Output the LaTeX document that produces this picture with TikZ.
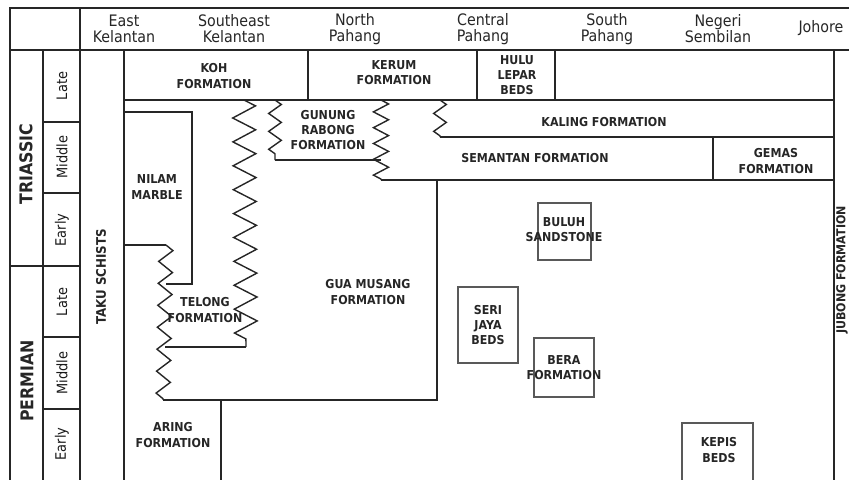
\documentclass[tikz,border=0pt]{standalone}
\usepackage{fontspec}
\setmainfont{DejaVu Sans}[FakeStretch=0.9]
\usetikzlibrary{decorations.pathmorphing}

\begin{document}
\begin{tikzpicture}[
      x=0.02cm, y=-0.02cm,
      rule/.style={line width=0.8pt, black!85},
      boxline/.style={line width=0.6pt, black!65},
      zz/.style 2 args={rule, decorate, decoration={zigzag, segment length=#1, amplitude=#2}},
      region/.style={font=\fontsize{9}{9.2}\selectfont, align=center, inner sep=0pt, text=black!85},
      fm/.style={font=\fontsize{7}{8.6}\selectfont\bfseries, align=center, inner sep=0pt, text=black!85},
      age/.style={font=\fontsize{8.2}{9}\selectfont, rotate=90, inner sep=0pt, text=black!90},
      period/.style={font=\fontsize{10}{11}\selectfont\bfseries, rotate=90, inner sep=0pt, text=black!85}
    ]
      \useasboundingbox (0,0) rectangle (849,480);

      % frame and columns
      \draw[rule] (10,480) -- (10,8) -- (849,8);
      \draw[rule] (10,50) -- (849,50);
      \draw[rule] (80,8) -- (80,480);
      \draw[rule] (43,50) -- (43,480);
      \draw[rule] (124,50) -- (124,480);
      \draw[rule] (834,50) -- (834,480);
      \draw[rule] (10,266) -- (80,266);
      \draw[rule] (43,122) -- (80,122);
      \draw[rule] (43,193) -- (80,193);
      \draw[rule] (43,337) -- (80,337);
      \draw[rule] (43,409) -- (80,409);

      % regions
      \node[region] (ekel) at (124,29) {East\\Kelantan};
      \node[region] (sekel) at (234,29) {Southeast\\Kelantan};
      \node[region] (npah) at (355,29) {North\\Pahang};
      \node[region] (cpah) at (483,29) {Central\\Pahang};
      \node[region] (spah) at (607,29) {South\\Pahang};
      \node[region] (nsem) at (718,29) {Negeri\\Sembilan};
      \node[region] (joh) at (821,28) {Johore};

      % periods and epochs
      \node[period] (trias) at (26,164) {TRIASSIC};
      \node[period] (perm) at (27,381) {PERMIAN};
      \node[age] (tlate) at (62,86) {Late};
      \node[age] (tmid) at (62,157) {Middle};
      \node[age] (tearly) at (62,230) {Early};
      \node[age] (plate) at (62,302) {Late};
      \node[age] (pmid) at (62,373) {Middle};
      \node[age] (pearly) at (62,444) {Early};

      % Upper Triassic row
      \draw[rule] (124,100) -- (834,100);
      \draw[rule] (308,50) -- (308,100);
      \draw[rule] (477,50) -- (477,100);
      \draw[rule] (555,50) -- (555,100);

      % Middle Triassic and below
      \draw[rule] (124,112) -- (192,112) -- (192,284) -- (166,284);
      \draw[rule] (124,245) -- (166,245);
      \draw[zz={12.5pt}{4pt}] (166,245) -- (163,400);
      \draw[zz={13.6pt}{6.5pt}] (244,100) -- (246,347);
      \draw[rule] (165,347) -- (246,347);
      \draw[zz={10.2pt}{3.6pt}] (275,100) -- (275,160);
      \draw[rule] (275,160) -- (381,160);
      \draw[zz={9pt}{4.3pt}] (381,100) -- (381,180);
      \draw[rule] (381,180) -- (834,180);
      \draw[zz={10.2pt}{3.6pt}] (440,100) -- (440,137);
      \draw[rule] (440,137) -- (834,137);
      \draw[rule] (713,137) -- (713,180);
      \draw[rule] (437,180) -- (437,400) -- (163,400);
      \draw[rule] (221,400) -- (221,480);

      % small units
      \draw[boxline] (538,203) rectangle (591,260);
      \draw[boxline] (458,287) rectangle (518,363);
      \draw[boxline] (534,338) rectangle (594,397);
      \draw[boxline] (682,423) rectangle (753,484);

      \node[fm] (koh) at (214,76) {KOH\\FORMATION};
      \node[fm] (kerum) at (394,73) {KERUM\\FORMATION};
      \node[fm] (hulu) at (517,75) {HULU\\LEPAR\\BEDS};
      \node[fm] (gunung) at (328,130) {GUNUNG\\RABONG\\FORMATION};
      \node[fm] (kaling) at (604,122) {KALING FORMATION};
      \node[fm] (semantan) at (535,158) {SEMANTAN FORMATION};
      \node[fm] (gemas) at (776,161) {GEMAS\\FORMATION};
      \node[fm] (nilam) at (157,187) {NILAM\\MARBLE};
      \node[fm] (telong) at (205,310) {TELONG\\FORMATION};
      \node[fm] (guamusang) at (368,292) {GUA MUSANG\\FORMATION};
      \node[fm] (aring) at (173,435) {ARING\\FORMATION};
      \node[fm] (buluh) at (564,230) {BULUH\\SANDSTONE};
      \node[fm] (seri) at (488,325) {SERI\\JAYA\\BEDS};
      \node[fm] (bera) at (564,368) {BERA\\FORMATION};
      \node[fm] (kepis) at (719,450) {KEPIS\\BEDS};
      \node[fm, rotate=90, font=\fontsize{7.5}{9}\selectfont\bfseries] (taku) at (101,277) {TAKU SCHISTS};
      \node[fm, rotate=90] (jubong) at (842,270) {JUBONG FORMATION};
    \end{tikzpicture}
\end{document}
